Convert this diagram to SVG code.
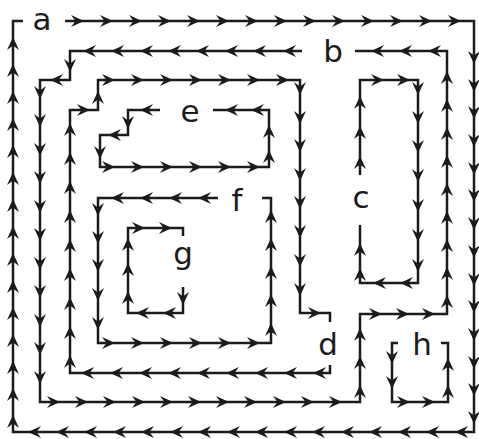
<svg xmlns="http://www.w3.org/2000/svg" width="479" height="439" viewBox="0 0 479 439">
<defs>
<style>
.ln{fill:none;stroke:#1b1b1b;stroke-width:2.5;stroke-linejoin:miter}
.ar{fill:none;stroke:none;marker-mid:url(#ah)}
.lbl{font-family:"DejaVu Sans","Liberation Sans",sans-serif;font-size:31px;fill:#1b1b1b;text-anchor:middle}
</style>
<marker id="ah" markerUnits="userSpaceOnUse" markerWidth="18" markerHeight="16" viewBox="-14 -8 18 16" refX="0" refY="0" orient="auto" overflow="visible">
<path d="M2,0 L-11,-6 L-6.5,0 L-11,6 Z" fill="#1b1b1b"/>
</marker>
</defs>
<rect width="479" height="439" fill="#ffffff"/>
<g id="connectors">
<g id="loop-a">
<path class="ln" d="M65 21 H474 V432 H13 V21 H23"/>
<path class="ar" d="M65 21 H82 H111 H140 H169 H198 H227 H256 H285 H314 H343 H372 H401 H430 H459 H474"/>
<path class="ar" d="M474 21 V62 V90 V117 V145 V173 V200 V228 V256 V284 V311 V339 V367 V394 V422 V432"/>
<path class="ar" d="M474 432 H457 H428 H400 H371 H343 H314 H286 H257 H229 H200 H172 H143 H115 H86 H58 H30 H13"/>
<path class="ar" d="M13 432 V417 V390 V363 V336 V309 V282 V255 V228 V201 V174 V147 V120 V93 V66 V39 V21"/>
</g>
<g id="loop-b">
<path class="ln" d="M302 51 H70 V80 H40 V402 H360 V314 H447 V51 H355"/>
<path class="ar" d="M302 51 H285 H255 H227 H198 H170 H142 H113 H85 H70"/>
<path class="ar" d="M70 51 V70 V80"/>
<path class="ar" d="M70 80 H52 H40"/>
<path class="ar" d="M40 80 V97 V125 V154 V182 V211 V239 V268 V296 V325 V353 V382 V402"/>
<path class="ar" d="M40 402 H58 H86 H114 H143 H171 H199 H227 H255 H284 H312 H340 H360"/>
<path class="ar" d="M360 402 V387 V358 V330 V314"/>
<path class="ar" d="M360 314 H380 H407 H433 H447"/>
<path class="ar" d="M447 314 V297 V269 V241 V213 V185 V157 V129 V101 V73 V51"/>
<path class="ar" d="M447 51 H430 H401 H373 H355"/>
</g>
<g id="loop-c">
<path class="ln" d="M360 175 V80 H418 V283 H360 V225"/>
<path class="ar" d="M360 175 V158 V128 V98 V80"/>
<path class="ar" d="M360 80 H382 H408 H418"/>
<path class="ar" d="M418 80 V93 V122 V151 V180 V210 V240 V270 V283"/>
<path class="ar" d="M418 283 H402 H375 H360"/>
<path class="ar" d="M360 283 V270 V245 V225"/>
</g>
<g id="loop-d">
<path class="ln" d="M330 365 V373 H70 V110 H98 V80 H300 V313 H330 V322"/>
<path class="ar" d="M330 373 H315 H286 H257 H228 H199 H170 H141 H112 H83 H70"/>
<path class="ar" d="M70 373 V357 V328 V299 V270 V241 V212 V183 V154 V125 V110"/>
<path class="ar" d="M70 110 H88 H98"/>
<path class="ar" d="M98 110 V93 V80"/>
<path class="ar" d="M98 80 H113 H142 H171 H200 H229 H258 H287 H300"/>
<path class="ar" d="M300 80 V93 V122 V150 V179 V207 V236 V265 V294 V313"/>
<path class="ar" d="M300 313 H319 H330"/>
</g>
<g id="loop-e">
<path class="ln" d="M160 110 H128 V135 H100 V167 H269 V110 H213"/>
<path class="ar" d="M160 110 H142 H128"/>
<path class="ar" d="M128 110 V127 V135"/>
<path class="ar" d="M128 135 H110 H100"/>
<path class="ar" d="M100 135 V157 V167"/>
<path class="ar" d="M100 167 H113 H142 H171 H200 H229 H258 H269"/>
<path class="ar" d="M269 167 V152 V127 V110"/>
<path class="ar" d="M269 110 H253 H227 H213"/>
</g>
<g id="loop-f">
<path class="ln" d="M218 198 H98 V343 H271 V198 H262"/>
<path class="ar" d="M218 198 H200 H171 H142 H113 H98"/>
<path class="ar" d="M98 198 V214 V242 V270 V299 V328 V343"/>
<path class="ar" d="M98 343 H113 H142 H171 H200 H229 H258 H271"/>
<path class="ar" d="M271 343 V325 V296 V268 V240 V212 V198"/>
</g>
<g id="loop-g">
<path class="ln" d="M183 287 V313 H128 V228 H183 V236"/>
<path class="ar" d="M183 287 V303 V313"/>
<path class="ar" d="M183 313 H165 H138 H128"/>
<path class="ar" d="M128 313 V293 V265 V240 V228"/>
<path class="ar" d="M128 228 H143 H170 H183"/>
</g>
<g id="loop-h">
<path class="ln" d="M398 343 H392 V402 H448 V343 H441"/>
<path class="ar" d="M392 343 V362 V387 V402"/>
<path class="ar" d="M392 402 H408 H433 H448"/>
<path class="ar" d="M448 402 V387 V360 V343"/>
</g>
</g>
<g id="node-a"><text class="lbl" x="42" y="30">a</text></g>
<g id="node-b"><text class="lbl" x="333" y="62">b</text></g>
<g id="node-c"><text class="lbl" x="361" y="208">c</text></g>
<g id="node-d"><text class="lbl" x="328" y="355">d</text></g>
<g id="node-e"><text class="lbl" x="190" y="122">e</text></g>
<g id="node-f"><text class="lbl" x="237" y="211">f</text></g>
<g id="node-g"><text class="lbl" x="183" y="264">g</text></g>
<g id="node-h"><text class="lbl" x="422" y="355">h</text></g>
</svg>
